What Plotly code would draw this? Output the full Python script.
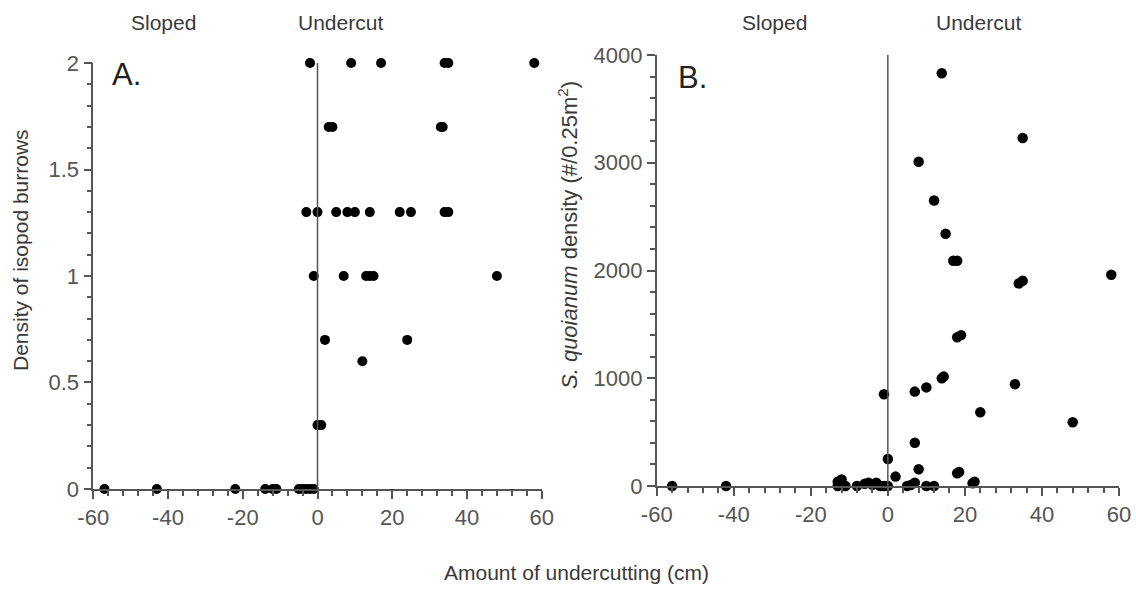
import plotly.graph_objects as go

# ---------------- data ----------------
# Panel A: density of isopod burrows vs amount of undercutting (cm)
a_x = [-2, 9, 17, 34, 35, 58,
       3, 4, 33, 33.5,
       -3, 0, 5, 8, 10, 14, 22, 25, 34, 35,
       -1, 7, 13, 14, 15, 48,
       2, 24,
       12,
       0, 1,
       -57, -43, -22, -14, -12, -11, -5, -4, -3, -2, -1]
a_y = [2, 2, 2, 2, 2, 2,
       1.7, 1.7, 1.7, 1.7,
       1.3, 1.3, 1.3, 1.3, 1.3, 1.3, 1.3, 1.3, 1.3, 1.3,
       1, 1, 1, 1, 1, 1,
       0.7, 0.7,
       0.6,
       0.3, 0.3,
       0, 0, 0, 0, 0, 0, 0, 0, 0, 0, 0]

# Panel B: S. quoianum density vs amount of undercutting (cm)
b_x = [14, 35, 8, 12, 15, 17, 18, 58, 34, 35, 18, 19, 14, 14.5, 33, 10, 7, -1,
       24, 48, 7, 0, 8, 18, 18.5, 2, 22, 22.5, 7,
       -56, -42, -13, -13, -12, -11, -8, -6, -5, -4, -3, -2, -1, 0, 5, 6, 10, 12]
b_y = [3830, 3230, 3010, 2650, 2340, 2090, 2090, 1960, 1880, 1905, 1380, 1400, 1000, 1015, 945, 915, 876, 851,
       684, 591, 402, 251, 155, 118, 130, 87, 25, 40, 31,
       0, 0, 0, 40, 60, 0, 0, 20, 30, 10, 30, 0, 0, 0, 0, 10, 0, 0]

x_ticks = [-60, -40, -20, 0, 20, 40, 60]
x_labels = ["-60", "-40", "-20", "0", "20", "40", "60"]
a_ticks = [0, 0.5, 1, 1.5, 2]
a_labels = ["0", "0.5", "1", "1.5", "2"]
b_ticks = [0, 1000, 2000, 3000, 4000]
b_labels = ["0", "1000", "2000", "3000", "4000"]

# minor tick positions (axis furniture)
x_minor = list(range(-60, 61, 4))
a_minor = [round(i * 0.1, 1) for i in range(0, 21)]
b_minor = list(range(0, 4001, 200))

FONT = "Liberation Sans, Arial, Helvetica, sans-serif"
AXC = "#555555"
TXT = "#3a3a3a"
CLEAR = "rgba(0,0,0,0)"

fig = go.Figure()
fig.add_trace(go.Scatter(x=a_x, y=a_y, mode="markers", xaxis="x", yaxis="y",
                         marker=dict(color="black", size=10), cliponaxis=False,
                         showlegend=False))
fig.add_trace(go.Scatter(x=b_x, y=b_y, mode="markers", xaxis="x2", yaxis="y2",
                         marker=dict(color="black", size=10.5), cliponaxis=False,
                         showlegend=False))

def axis(rng, vals, labels, minor_vals, dom, anchor):
    return dict(range=rng, domain=dom, anchor=anchor,
                tickmode="array", tickvals=vals, ticktext=labels,
                ticks="outside", ticklen=8, tickwidth=2, tickcolor=AXC,
                showline=True, linecolor=AXC, linewidth=1.5,
                gridcolor=CLEAR, zerolinecolor=CLEAR,
                tickfont=dict(family=FONT, size=22, color="#555555"),
                minor=dict(tickmode="array", tickvals=minor_vals,
                           ticks="outside", ticklen=5, tickwidth=1.5,
                           tickcolor=AXC, gridcolor=CLEAR))

fig.update_layout(
    template="none",
    showlegend=False,
    width=1136, height=589,
    margin=dict(l=0, r=0, t=0, b=0),
    xaxis=axis([-60, 60], x_ticks, x_labels, x_minor, [0.0821, 0.4769], "y"),
    xaxis2=axis([-60, 60], x_ticks, x_labels, x_minor, [0.5781, 0.985], "y2"),
    yaxis=axis([0, 2], a_ticks, a_labels, a_minor, [0.1698, 0.893], "x"),
    yaxis2=axis([0, 4000], b_ticks, b_labels, b_minor, [0.1749, 0.9066], "x2"),
)

# vertical divider at x = 0
fig.add_shape(type="line", xref="x", yref="y", x0=0, x1=0, y0=0, y1=2.05,
              line=dict(color="#555", width=1.5))
fig.add_shape(type="line", xref="x2", yref="y2", x0=0, x1=0, y0=0, y1=4030,
              line=dict(color="#555", width=1.5))

def ann(text, x, y, size, angle=0, color=TXT):
    fig.add_annotation(text=text, x=x, y=y, xref="paper", yref="paper",
                       showarrow=False, textangle=angle, xanchor="center",
                       yanchor="middle",
                       font=dict(family=FONT, size=size, color=color))

ann("Sloped", 163 / 1136, 1 - 22 / 589, 21)
ann("Undercut", 340 / 1136, 1 - 22 / 589, 21)
ann("Sloped", 774 / 1136, 1 - 22 / 589, 21)
ann("Undercut", 978 / 1136, 1 - 22 / 589, 21)
ann("A.", 126 / 1136, 1 - 75 / 589, 31, color="#222")
ann("B.", 692 / 1136, 1 - 77 / 589, 31, color="#222")
ann("Density of isopod burrows", 20 / 1136, 1 - 250 / 589, 21, angle=-90)
ann("<i>S. quoianum</i> density (#/0.25m<sup>2</sup>)", 568 / 1136, 1 - 235 / 589, 22, angle=-90)
ann("Amount of undercutting (cm)", 576 / 1136, 1 - 572 / 589, 21)

fig.write_html("out.html")
